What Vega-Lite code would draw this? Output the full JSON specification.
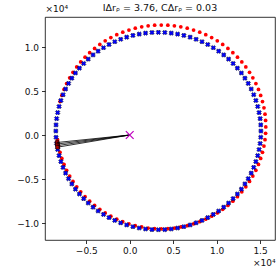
{
 "$schema": "https://vega.github.io/schema/vega-lite/v6.json",
 "width": 230, "height": 223,
 "autosize": "none",
 "padding": {"left": 45, "top": 17, "right": 5, "bottom": 32},
 "config": {
   "view": {"stroke": "black", "strokeWidth": 0.8},
   "font": "DejaVu Sans",
   "axis": {"domain": false, "grid": false, "ticks": true, "tickSize": 3.5, "tickColor": "black", "tickWidth": 0.8, "labelFontSize": 9, "labelColor": "#111", "labelFont": "DejaVu Sans", "titleFont": "DejaVu Sans", "titleFontSize": 9, "titleFontWeight": "normal", "titleColor": "#111"}
 },
 "title": {"text": "IΔrᵨ = 3.76, CΔrᵨ = 0.03", "fontSize": 9.5, "fontWeight": "normal", "font": "DejaVu Sans", "color": "#111", "baseline": "bottom", "offset": 4, "dy": 22, "anchor": "middle"},
 "data": {"values": [
  {"s":"r","x":-8310,"y":-530},{"s":"r","x":-8190,"y":-1250},{"s":"r","x":-8020,"y":-1960},{"s":"r","x":-7810,"y":-2660},{"s":"r","x":-7560,"y":-3340},{"s":"r","x":-7260,"y":-4010},{"s":"r","x":-6910,"y":-4660},{"s":"r","x":-6530,"y":-5280},{"s":"r","x":-6100,"y":-5890},{"s":"r","x":-5640,"y":-6460},{"s":"r","x":-5140,"y":-7010},{"s":"r","x":-4610,"y":-7520},{"s":"r","x":-4040,"y":-8000},{"s":"r","x":-3440,"y":-8450},{"s":"r","x":-2820,"y":-8860},{"s":"r","x":-2170,"y":-9230},{"s":"r","x":-1490,"y":-9560},{"s":"r","x":-800,"y":-9850},{"s":"r","x":-90,"y":-10090},{"s":"r","x":640,"y":-10300},{"s":"r","x":1380,"y":-10450},{"s":"r","x":2120,"y":-10570},{"s":"r","x":2870,"y":-10640},{"s":"r","x":3630,"y":-10660},{"s":"r","x":4390,"y":-10640},{"s":"r","x":5140,"y":-10570},{"s":"r","x":5880,"y":-10450},{"s":"r","x":6620,"y":-10300},{"s":"r","x":7350,"y":-10090},{"s":"r","x":8060,"y":-9850},{"s":"r","x":8750,"y":-9560},{"s":"r","x":9430,"y":-9230},{"s":"r","x":10080,"y":-8860},{"s":"r","x":10700,"y":-8450},{"s":"r","x":11300,"y":-8000},{"s":"r","x":11870,"y":-7520},{"s":"r","x":12400,"y":-7010},{"s":"r","x":12900,"y":-6460},{"s":"r","x":13360,"y":-5890},{"s":"r","x":13790,"y":-5280},{"s":"r","x":14170,"y":-4660},{"s":"r","x":14520,"y":-4010},{"s":"r","x":14820,"y":-3340},{"s":"r","x":15070,"y":-2660},{"s":"r","x":15280,"y":-1960},{"s":"r","x":15450,"y":-1250},{"s":"r","x":15570,"y":-530},{"s":"r","x":15640,"y":190},{"s":"r","x":15660,"y":920},{"s":"r","x":15640,"y":1650},{"s":"r","x":15570,"y":2370},{"s":"r","x":15450,"y":3090},{"s":"r","x":15280,"y":3800},{"s":"r","x":15070,"y":4500},{"s":"r","x":14820,"y":5180},{"s":"r","x":14520,"y":5850},{"s":"r","x":14170,"y":6500},{"s":"r","x":13790,"y":7120},{"s":"r","x":13360,"y":7730},{"s":"r","x":12900,"y":8300},{"s":"r","x":12400,"y":8850},{"s":"r","x":11870,"y":9360},{"s":"r","x":11300,"y":9840},{"s":"r","x":10700,"y":10290},{"s":"r","x":10080,"y":10700},{"s":"r","x":9430,"y":11070},{"s":"r","x":8750,"y":11400},{"s":"r","x":8060,"y":11690},{"s":"r","x":7350,"y":11930},{"s":"r","x":6620,"y":12140},{"s":"r","x":5880,"y":12290},{"s":"r","x":5140,"y":12410},{"s":"r","x":4390,"y":12480},{"s":"r","x":3630,"y":12500},{"s":"r","x":2870,"y":12480},{"s":"r","x":2120,"y":12410},{"s":"r","x":1380,"y":12290},{"s":"r","x":640,"y":12140},{"s":"r","x":-90,"y":11930},{"s":"r","x":-800,"y":11690},{"s":"r","x":-1490,"y":11400},{"s":"r","x":-2170,"y":11070},{"s":"r","x":-2820,"y":10700},{"s":"r","x":-3440,"y":10290},{"s":"r","x":-4040,"y":9840},{"s":"r","x":-4610,"y":9360},{"s":"r","x":-5140,"y":8850},{"s":"r","x":-5640,"y":8300},{"s":"r","x":-6100,"y":7730},{"s":"r","x":-6530,"y":7120},{"s":"r","x":-6910,"y":6500},{"s":"r","x":-7260,"y":5850},{"s":"r","x":-7560,"y":5180},{"s":"r","x":-7810,"y":4500},{"s":"r","x":-8020,"y":3800},
  {"s":"b","x":15100,"y":450},{"s":"b","x":15080,"y":1150},{"s":"b","x":15010,"y":1860},{"s":"b","x":14890,"y":2550},{"s":"b","x":14730,"y":3240},{"s":"b","x":14520,"y":3920},{"s":"b","x":14270,"y":4580},{"s":"b","x":13980,"y":5230},{"s":"b","x":13640,"y":5860},{"s":"b","x":13260,"y":6460},{"s":"b","x":12850,"y":7050},{"s":"b","x":12390,"y":7600},{"s":"b","x":11900,"y":8130},{"s":"b","x":11380,"y":8630},{"s":"b","x":10820,"y":9100},{"s":"b","x":10240,"y":9530},{"s":"b","x":9620,"y":9920},{"s":"b","x":8980,"y":10280},{"s":"b","x":8320,"y":10600},{"s":"b","x":7640,"y":10880},{"s":"b","x":6950,"y":11120},{"s":"b","x":6230,"y":11320},{"s":"b","x":5510,"y":11470},{"s":"b","x":4780,"y":11580},{"s":"b","x":4040,"y":11650},{"s":"b","x":3300,"y":11670},{"s":"b","x":2560,"y":11650},{"s":"b","x":1820,"y":11580},{"s":"b","x":1090,"y":11470},{"s":"b","x":370,"y":11320},{"s":"b","x":-350,"y":11120},{"s":"b","x":-1040,"y":10880},{"s":"b","x":-1720,"y":10600},{"s":"b","x":-2380,"y":10280},{"s":"b","x":-3020,"y":9920},{"s":"b","x":-3640,"y":9530},{"s":"b","x":-4220,"y":9100},{"s":"b","x":-4780,"y":8630},{"s":"b","x":-5300,"y":8130},{"s":"b","x":-5790,"y":7600},{"s":"b","x":-6250,"y":7050},{"s":"b","x":-6660,"y":6460},{"s":"b","x":-7040,"y":5860},{"s":"b","x":-7380,"y":5230},{"s":"b","x":-7670,"y":4580},{"s":"b","x":-7920,"y":3920},{"s":"b","x":-8130,"y":3240},{"s":"b","x":-8290,"y":2550},{"s":"b","x":-8410,"y":1860},{"s":"b","x":-8480,"y":1150},{"s":"b","x":-8500,"y":450},{"s":"b","x":-8480,"y":-250},{"s":"b","x":-8410,"y":-960},{"s":"b","x":-8290,"y":-1650},{"s":"b","x":-8130,"y":-2340},{"s":"b","x":-7920,"y":-3020},{"s":"b","x":-7670,"y":-3680},{"s":"b","x":-7380,"y":-4330},{"s":"b","x":-7040,"y":-4960},{"s":"b","x":-6660,"y":-5560},{"s":"b","x":-6250,"y":-6150},{"s":"b","x":-5790,"y":-6700},{"s":"b","x":-5300,"y":-7230},{"s":"b","x":-4780,"y":-7730},{"s":"b","x":-4220,"y":-8200},{"s":"b","x":-3640,"y":-8630},{"s":"b","x":-3020,"y":-9020},{"s":"b","x":-2380,"y":-9380},{"s":"b","x":-1720,"y":-9700},{"s":"b","x":-1040,"y":-9980},{"s":"b","x":-350,"y":-10220},{"s":"b","x":370,"y":-10420},{"s":"b","x":1090,"y":-10570},{"s":"b","x":1820,"y":-10680},{"s":"b","x":2560,"y":-10750},{"s":"b","x":3300,"y":-10770},{"s":"b","x":4040,"y":-10750},{"s":"b","x":4780,"y":-10680},{"s":"b","x":5510,"y":-10570},{"s":"b","x":6230,"y":-10420},{"s":"b","x":6950,"y":-10220},{"s":"b","x":7640,"y":-9980},{"s":"b","x":8320,"y":-9700},{"s":"b","x":8980,"y":-9380},{"s":"b","x":9620,"y":-9020},{"s":"b","x":10240,"y":-8630},{"s":"b","x":10820,"y":-8200},{"s":"b","x":11380,"y":-7730},{"s":"b","x":11900,"y":-7230},{"s":"b","x":12390,"y":-6700},{"s":"b","x":12850,"y":-6150},{"s":"b","x":13260,"y":-5560},{"s":"b","x":13640,"y":-4960},{"s":"b","x":13980,"y":-4330},{"s":"b","x":14270,"y":-3680},{"s":"b","x":14520,"y":-3020},{"s":"b","x":14730,"y":-2340},{"s":"b","x":14890,"y":-1650},{"s":"b","x":15010,"y":-960},{"s":"b","x":15080,"y":-250},
  {"s":"c","x":-8350,"y":-850},{"s":"c","x":-8330,"y":-1020},{"s":"c","x":-8310,"y":-1200},{"s":"c","x":-8290,"y":-1380},
  {"s":"l","g":1,"x":-8350,"y":-850},{"s":"l","g":1,"x":0,"y":0},
  {"s":"l","g":2,"x":-8330,"y":-1020},{"s":"l","g":2,"x":0,"y":0},
  {"s":"l","g":3,"x":-8310,"y":-1200},{"s":"l","g":3,"x":0,"y":0},
  {"s":"l","g":4,"x":-8290,"y":-1380},{"s":"l","g":4,"x":0,"y":0},
  {"s":"o","x":0,"y":0}
 ]},
 "encoding": {
   "x": {"field": "x", "type": "quantitative", "scale": {"domain": [-9750, 16720], "nice": false, "zero": false},
         "axis": {"values": [-5000, 0, 5000, 10000, 15000], "labelExpr": "replace(format(datum.value/10000,'.1f'),'-','−')", "title": "×10⁴", "titleAnchor": "end", "titleAlign": "right", "titlePadding": 3, "labelPadding": 3}},
   "y": {"field": "y", "type": "quantitative", "scale": {"domain": [-11930, 13410], "nice": false, "zero": false},
         "axis": {"values": [-10000, -5000, 0, 5000, 10000], "labelExpr": "replace(format(datum.value/10000,'.1f'),'-','−')", "title": "×10⁴", "titleAngle": 0, "titleX": 0, "titleY": -4, "titleAlign": "left", "titleBaseline": "bottom", "labelPadding": 3}}
 },
 "layer": [
   {"transform": [{"filter": "datum.s=='r'"}], "mark": {"type": "point", "shape": "circle", "filled": true, "color": "#ff0000", "size": 14, "opacity": 1}},
   {"transform": [{"filter": "datum.s=='b'"}], "mark": {"type": "point", "shape": "cross", "angle": 45, "filled": true, "fill": "#0000ff", "stroke": "black", "strokeWidth": 0.4, "size": 22, "opacity": 1}},
   {"transform": [{"filter": "datum.s=='c'"}], "mark": {"type": "point", "shape": "square", "filled": true, "fill": "#cc0000", "stroke": "black", "strokeWidth": 0.6, "size": 14, "opacity": 1}},
   {"transform": [{"filter": "datum.s=='l'"}], "mark": {"type": "line", "color": "black", "strokeWidth": 0.8}, "encoding": {"detail": {"field": "g", "type": "nominal"}}},
   {"transform": [{"filter": "datum.s=='o'"}], "mark": {"type": "point", "shape": "M-1,-1L1,1M-1,1L1,-1", "filled": false, "stroke": "#bf00bf", "strokeWidth": 1.2, "size": 60, "opacity": 1}}
 ]
}
